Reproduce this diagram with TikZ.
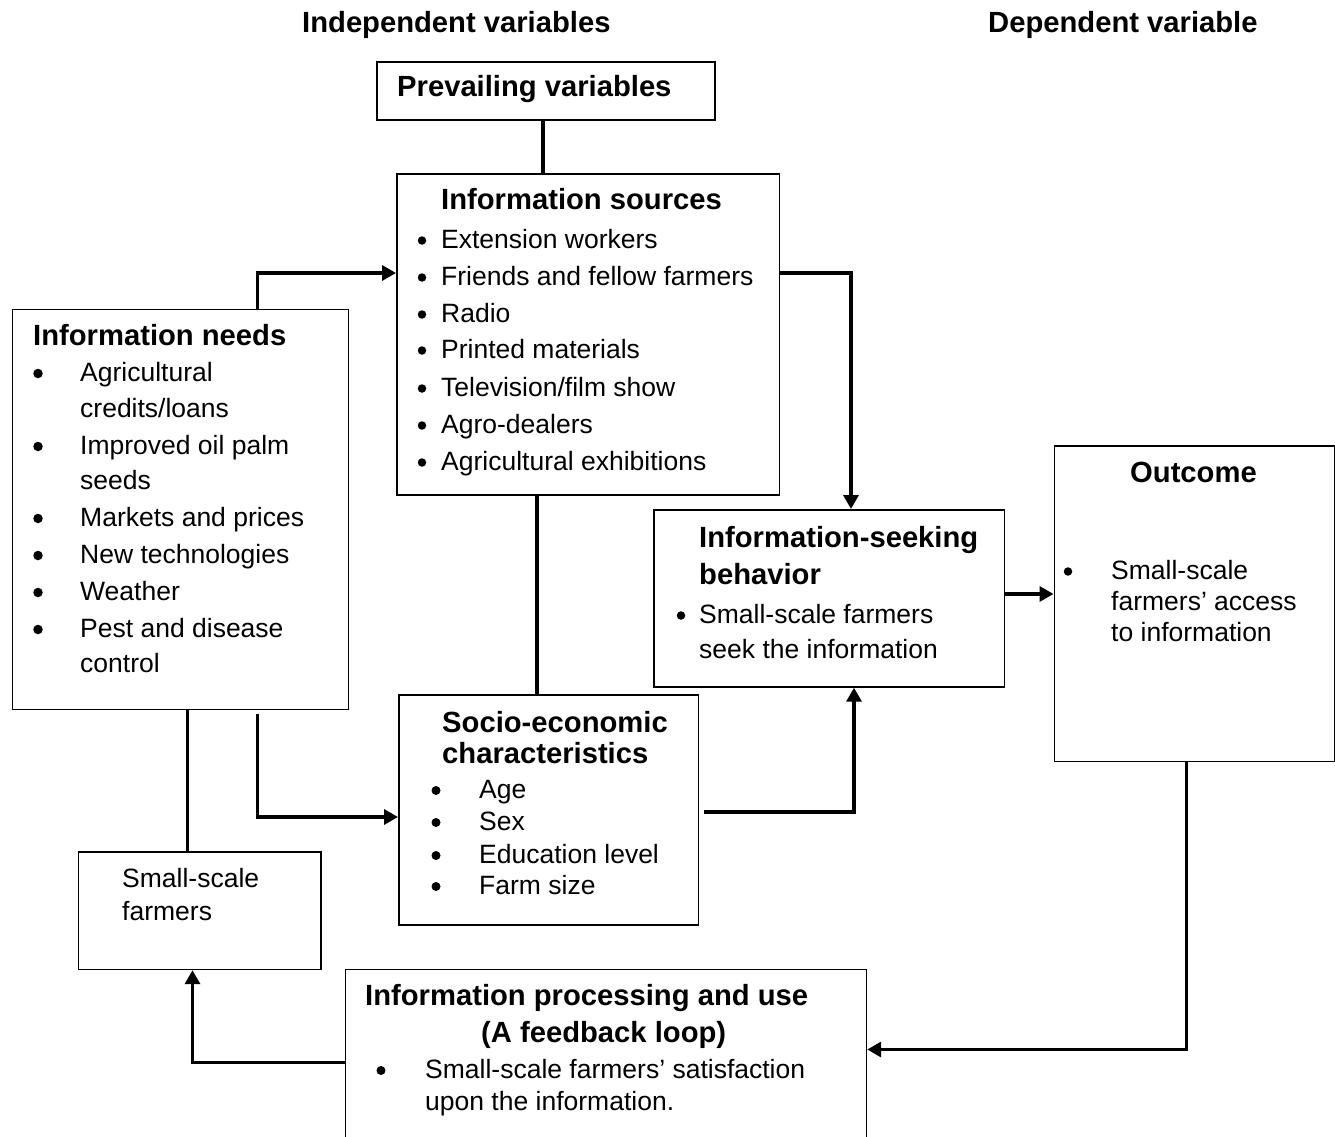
\documentclass[tikz,border=0pt]{standalone}
\usepackage{fontspec}
\setmainfont{Liberation Sans}
\usetikzlibrary{arrows.meta}

\tikzset{
  box/.style={draw, line width=1.7pt, inner sep=0pt, anchor=north west},
  conn/.style={line width=3.4pt},
  txt/.style={anchor=base west, inner sep=0pt, font=\fontsize{26.5}{30}\selectfont},
  hd/.style={txt, font=\fontsize{29.2}{34}\selectfont\bfseries},
  bul/.style={circle, fill, inner sep=0pt, minimum size=8.5pt},
}

\begin{document}
\begin{tikzpicture}[x=1pt, y=-1pt, >={Triangle[length=14pt,width=15pt]}]
    \useasboundingbox (0,0) rectangle (1335,1137);
    \node[hd] (indep) at (302,33) {Independent variables};
    \node[hd] (dep) at (988,33) {Dependent variable};

    % boxes
    \node[box, minimum width=338pt, minimum height=58pt] (prev) at (376,61) {};
    \node[box, minimum width=382.5pt, minimum height=321pt] (sources) at (396,173) {};
    \node[box, minimum width=336pt, minimum height=400pt] (needs) at (11.5,308.5) {};
    \node[box, minimum width=350.5pt, minimum height=177pt] (seeking) at (653,509) {};
    \node[box, minimum width=280pt, minimum height=315.5pt] (outcome) at (1053.5,445) {};
    \node[box, minimum width=299.5pt, minimum height=230pt] (socio) at (398,694) {};
    \node[box, minimum width=242.5pt, minimum height=117.5pt] (farmers) at (77.5,851) {};
    \node[box, minimum width=521pt, minimum height=200pt] (process) at (344.5,968.5) {};

    % texts
    \node[hd] (prevh) at (397,97) {Prevailing variables};

    \node[hd] (sourcesh) at (441,209) {Information sources};
    \foreach \t/\y [count=\i] in {Extension workers/248, Friends and fellow farmers/285,
        Radio/322, Printed materials/358, {Television/film show}/396, Agro-dealers/433,
        Agricultural exhibitions/470}{
      \node[bul] (sourcesb\i) at (422,\y-7.5) {};
      \node[txt] (sources\i) at (441,\y) {\t};
    }

    \node[hd] (needsh) at (33,345) {Information needs};
    \foreach \t/\y [count=\i] in {Agricultural/381, {credits/loans}/417, Improved oil palm/454,
        seeds/489, Markets and prices/526, New technologies/563, Weather/600,
        Pest and disease/637, control/672}
      \node[txt] (needs\i) at (80,\y) {\t};
    \foreach \y [count=\i] in {381,454,526,563,600,637}
      \node[bul, minimum size=9.5pt] (needsb\i) at (38,\y-7.5) {};

    \node[hd] (seekingh1) at (699,547) {Information-seeking};
    \node[hd] (seekingh2) at (699,584) {behavior};
    \node[bul] (seekingb) at (681,615.5) {};
    \node[txt] (seeking1) at (699,623) {Small-scale farmers};
    \node[txt] (seeking2) at (699,658) {seek the information};

    \node[hd] (outcomeh) at (1130,482) {Outcome};
    \node[bul] (outcomeb) at (1068,571.5) {};
    \foreach \t/\y [count=\i] in {Small-scale/579, farmers' access/610, to information/641}
      \node[txt] (outcome\i) at (1111,\y) {\t};

    \node[hd] (socioh1) at (442,732) {Socio-economic};
    \node[hd] (socioh2) at (442,763) {characteristics};
    \foreach \t/\y [count=\i] in {Age/798, Sex/830, Education level/863, Farm size/894}{
      \node[bul, minimum size=9pt] (sociob\i) at (436,\y-7.5) {};
      \node[txt] (socio\i) at (479,\y) {\t};
    }

    \node[txt] (farmers1) at (122,887) {Small-scale};
    \node[txt] (farmers2) at (122,920) {farmers};

    \node[hd] (processh1) at (365,1005) {Information processing and use};
    \node[hd] (processh2) at (481,1042) {(A feedback loop)};
    \node[bul, minimum size=9pt] (processb) at (381,1070.5) {};
    \node[txt] (process1) at (425,1078) {Small-scale farmers' satisfaction};
    \node[txt] (process2) at (425,1110) {upon the information.};

    % connectors
    \draw[conn] ([xshift=-3pt]prev.south) -- ([xshift=-3pt]prev.south |- sources.north);
    \draw[conn,->] ([xshift=246pt]needs.north west) |- ([yshift=-100pt]sources.north west);
    \draw[conn,->] ([yshift=-100pt]sources.north east) -| ([xshift=198pt]seeking.north west);
    \draw[conn] ([xshift=-51pt]sources.south) -- ([xshift=-51pt]sources.south |- socio.north);
    \draw[conn,->] ([shift={(246pt,-4pt)}]needs.south west) |- ([yshift=-123pt]socio.north west);
    \draw[conn,->] ([shift={(5pt,-118pt)}]socio.north east) -| ([xshift=201pt]seeking.south west);
    \draw[conn,->] ([yshift=-85pt]seeking.north east) -- ([yshift=-85pt]seeking.north east -| outcome.west);
    \draw[conn,->] ([xshift=133pt]outcome.south west) |- ([yshift=-81pt]process.north east);
    \draw[conn,->] ([yshift=-94pt]process.north west) -| ([xshift=115pt]farmers.south west);
    \draw[conn] ([xshift=110pt]farmers.north west) -- ([xshift=110pt]farmers.north west |- needs.south);
\end{tikzpicture}
\end{document}
